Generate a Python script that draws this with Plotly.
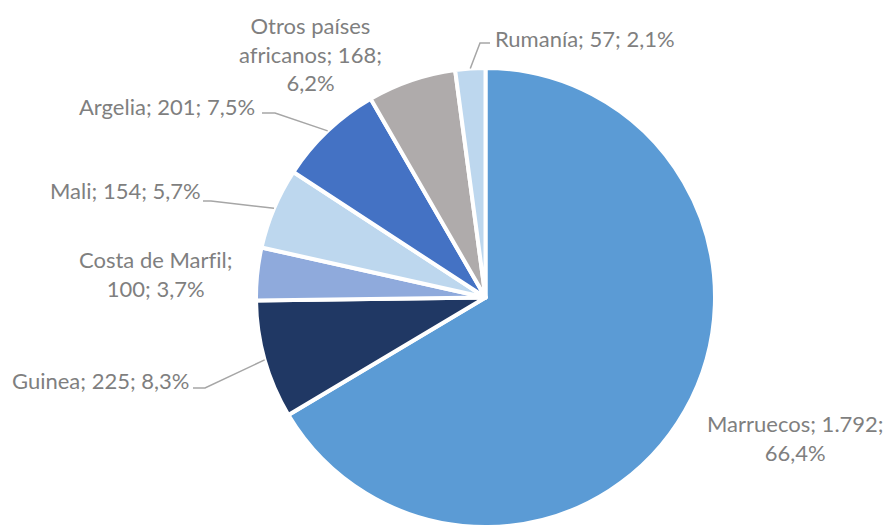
import math
import plotly.graph_objects as go

# Data
countries = ["Marruecos", "Guinea", "Costa de Marfil", "Mali", "Argelia",
             "Otros países africanos", "Rumanía"]
values = [1792, 225, 100, 154, 201, 168, 57]
value_labels = ["1.792", "225", "100", "154", "201", "168", "57"]
colors = ["#5B9BD5", "#203864", "#8FAADC", "#BDD7EE", "#4472C4", "#AFABAB", "#BDD7EE"]

W, H = 886, 527
CX, CY, R = 485.5, 297.5, 229.5  # pie centre / radius in pixels

# Label placement (pixels): text position, anchor, line breaks, elbow of leader line
label_style = {
    "Marruecos": dict(x=795, y=438, xanchor="center", lines=["Marruecos; {v};", "{p}"], elbow=None),
    "Guinea": dict(x=191, y=381, xanchor="right", lines=["Guinea; {v}; {p}"], elbow=((205, 388), (193, 388))),
    "Costa de Marfil": dict(x=155, y=274, xanchor="center", lines=["Costa de Marf\u200cil;", "{v}; {p}"], elbow=None),
    "Mali": dict(x=203, y=190, xanchor="right", lines=["Mali; {v}; {p}"], elbow=((211, 201), (203, 201))),
    "Argelia": dict(x=257, y=107, xanchor="right", lines=["Argelia; {v}; {p}"], elbow=((275, 113), (262, 113))),
    "Otros países africanos": dict(x=310, y=54, xanchor="center", lines=["Otros países", "africanos; {v};", "{p}"], elbow=None),
    "Rumanía": dict(x=493, y=38, xanchor="left", lines=["Rumanía; {v}; {p}"], elbow=((480, 43), (490, 43))),
}

total = sum(values)

fig = go.Figure(go.Pie(
    labels=countries,
    values=values,
    sort=False,
    direction="clockwise",
    rotation=0,
    marker=dict(colors=colors, line=dict(color="white", width=4)),
    textinfo="none",
    hoverinfo="label+value+percent",
    showlegend=False,
    domain=dict(x=[(CX - R) / W, (CX + R) / W], y=[(H - CY - R) / H, (H - CY + R) / H]),
))

def px(x):
    return x / W

def py(y):
    return 1 - y / H

annotations = []
shapes = []
cum = 0
for name, v, vl in zip(countries, values, value_labels):
    mid = (cum + v / 2) / total * 2 * math.pi
    cum += v
    pct = f"{v / total * 100:.1f}".replace(".", ",") + "%"
    st = label_style[name]
    text = "<br>".join(line.format(v=vl, p=pct) for line in st["lines"])
    annotations.append(dict(
        x=px(st["x"]), y=py(st["y"]), xref="paper", yref="paper",
        text=text, showarrow=False, xanchor=st["xanchor"], yanchor="middle",
        align="center", font=dict(family="Lato", size=22, color="#7F7F7F"),
    ))
    if st["elbow"]:
        ex = CX + R * math.sin(mid)
        ey = CY - R * math.cos(mid)
        (bx, by), (tx, ty) = st["elbow"]
        shapes.append(dict(
            type="path", xref="paper", yref="paper",
            path=f"M {px(ex)} {py(ey)} L {px(bx)} {py(by)} L {px(tx)} {py(ty)}",
            line=dict(color="#A6A6A6", width=1.5),
        ))

fig.update_layout(
    width=W, height=H,
    margin=dict(l=0, r=0, t=0, b=0),
    paper_bgcolor="white",
    plot_bgcolor="white",
    annotations=annotations,
    shapes=shapes,
)

fig.write_html("out.html")
